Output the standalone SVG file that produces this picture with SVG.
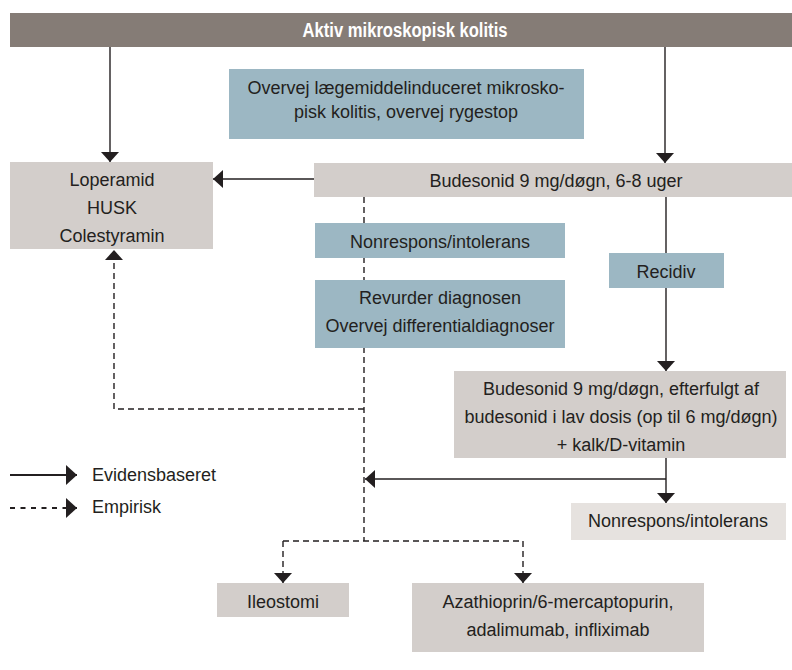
<svg xmlns="http://www.w3.org/2000/svg" width="792" height="670" viewBox="0 0 792 670">
<defs>
<style>
.t{font-family:"Liberation Sans",Arial,sans-serif;font-size:18px;fill:#231f20;text-anchor:middle}
.hd{font-family:"Liberation Sans",Arial,sans-serif;font-size:19.5px;font-weight:bold;fill:#ffffff;text-anchor:middle}
.lg{font-family:"Liberation Sans",Arial,sans-serif;font-size:18px;fill:#231f20}
.g{fill:#d3cecb}
.b{fill:#9cb7c3}
.l{fill:#e6e2df}
.s{fill:none;stroke:#231f20;stroke-width:1.4}
.d{fill:none;stroke:#231f20;stroke-width:1.4;stroke-dasharray:6 4}
</style>
<marker id="ah" markerUnits="userSpaceOnUse" markerWidth="10" markerHeight="18" refX="10" refY="9" orient="auto">
<path d="M0,0 L10,9 L0,18 Z" fill="#231f20"/>
</marker>
<marker id="ahl" markerUnits="userSpaceOnUse" markerWidth="11" markerHeight="20" refX="11" refY="10" orient="auto">
<path d="M0,0 L11,10 L0,20 Z" fill="#231f20"/>
</marker>
</defs>
<rect width="792" height="670" fill="#ffffff"/>
<g id="connectors">
<line class="s" x1="110" y1="47" x2="110" y2="162" marker-end="url(#ah)"/>
<line class="s" x1="665" y1="47" x2="665" y2="163" marker-end="url(#ah)"/>
<line class="s" x1="314" y1="179" x2="213" y2="179" marker-end="url(#ah)"/>
<line class="d" x1="364" y1="197" x2="364" y2="541"/>
<polyline class="d" points="364,409 114,409 114,250" marker-end="url(#ah)"/>
<line class="s" x1="666" y1="197" x2="666" y2="371" marker-end="url(#ah)"/>
<line class="s" x1="666" y1="458" x2="666" y2="503" marker-end="url(#ah)"/>
<polyline class="s" points="666,479 365,479" marker-end="url(#ah)"/>
<polyline class="d" points="283,541 283,583" marker-end="url(#ah)"/>
<polyline class="d" points="283,541 523,541 523,583" marker-end="url(#ah)"/>
</g>
<g id="header">
<rect x="10" y="13" width="782" height="34" fill="#857c76"/>
<text class="hd" x="405" y="36.5" textLength="205" lengthAdjust="spacingAndGlyphs">Aktiv mikroskopisk kolitis</text>
</g>
<g id="overvej">
<rect class="b" x="229" y="69" width="355" height="70"/>
<text class="t" x="406" y="93.5">Overvej lægemiddelinduceret mikrosko-</text>
<text class="t" x="406" y="118">pisk kolitis, overvej rygestop</text>
</g>
<g id="loperamid">
<rect class="g" x="10" y="162" width="203" height="87"/>
<text class="t" x="112" y="186">Loperamid</text>
<text class="t" x="112" y="214">HUSK</text>
<text class="t" x="112" y="242">Colestyramin</text>
</g>
<g id="budesonid1">
<rect class="g" x="314" y="163" width="478" height="34"/>
<text class="t" x="556" y="187">Budesonid 9 mg/døgn, 6-8 uger</text>
</g>
<g id="nonrespons1">
<rect class="b" x="315" y="223" width="250" height="35"/>
<text class="t" x="440" y="248">Nonrespons/intolerans</text>
</g>
<g id="revurder">
<rect class="b" x="315" y="280" width="250" height="68"/>
<text class="t" x="440" y="304">Revurder diagnosen</text>
<text class="t" x="440" y="332">Overvej differentialdiagnoser</text>
</g>
<g id="recidiv">
<rect class="b" x="609" y="253" width="115" height="35"/>
<text class="t" x="666" y="278">Recidiv</text>
</g>
<g id="budesonid2">
<rect class="g" x="454" y="371" width="332" height="87"/>
<text class="t" x="621" y="395">Budesonid 9 mg/døgn, efterfulgt af</text>
<text class="t" x="621" y="423">budesonid i lav dosis (op til 6 mg/døgn)</text>
<text class="t" x="621" y="451">+ kalk/D-vitamin</text>
</g>
<g id="nonrespons2">
<rect class="l" x="571" y="503" width="215" height="37"/>
<text class="t" x="678" y="527">Nonrespons/intolerans</text>
</g>
<g id="ileostomi">
<rect class="g" x="217" y="583" width="132" height="34"/>
<text class="t" x="283" y="608">Ileostomi</text>
</g>
<g id="azathioprin">
<rect class="g" x="412" y="583" width="292" height="69"/>
<text class="t" x="558" y="608">Azathioprin/6-mercaptopurin,</text>
<text class="t" x="558" y="636">adalimumab, infliximab</text>
</g>
<g id="legend">
<line x1="10" y1="475" x2="77" y2="475" stroke="#231f20" stroke-width="2" marker-end="url(#ahl)"/>
<line x1="10" y1="508" x2="77" y2="508" stroke="#231f20" stroke-width="2" stroke-dasharray="5 5.5" marker-end="url(#ahl)"/>
<text class="lg" x="92" y="481">Evidensbaseret</text>
<text class="lg" x="92" y="513">Empirisk</text>
</g>
</svg>
